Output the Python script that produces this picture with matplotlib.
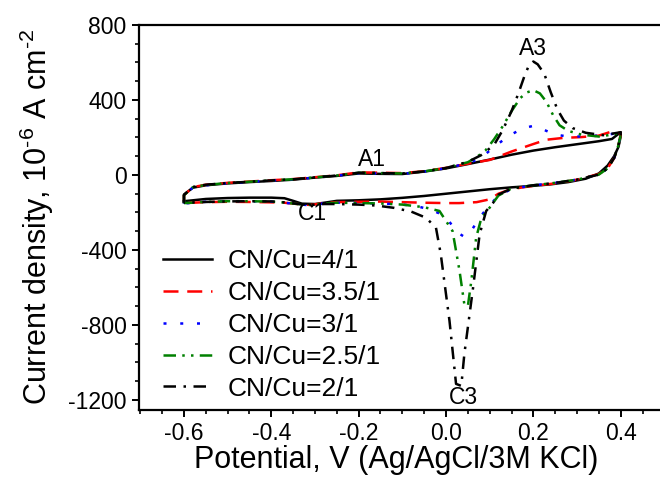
import matplotlib
matplotlib.use('Agg')
import matplotlib.pyplot as plt
from matplotlib.ticker import MultipleLocator

plt.rcParams['font.family'] = ['Liberation Sans', 'DejaVu Sans']
plt.rcParams['mathtext.fontset'] = 'custom'
plt.rcParams['mathtext.rm'] = 'Liberation Sans'
plt.rcParams['mathtext.it'] = 'Liberation Sans:italic'
plt.rcParams['mathtext.bf'] = 'Liberation Sans:bold'

# CV loops: anodic sweep -0.6 -> 0.4 V, then cathodic sweep back to -0.6 V
x_41 = [-0.60, -0.60, -0.58, -0.55, -0.50, -0.45, -0.40, -0.35, -0.30, -0.25, -0.20, -0.15, -0.10, -0.05,
        0.00, 0.05, 0.10, 0.15, 0.20, 0.25, 0.30, 0.35, 0.38, 0.40,
        0.400, 0.395, 0.385, 0.37, 0.35, 0.32, 0.28, 0.24, 0.20, 0.15, 0.10, 0.05, 0.00, -0.05, -0.10,
        -0.15, -0.20, -0.25, -0.27, -0.30, -0.33, -0.35, -0.37, -0.40, -0.45, -0.50, -0.55, -0.60]
y_41 = [-145, -105, -68, -55, -45, -38, -32, -25, -14, -5, 8, 6, 5, 18,
        35, 58, 82, 108, 130, 148, 164, 180, 192, 228,
        205, 150, 100, 50, 8, -20, -38, -50, -58, -66, -76, -88, -100, -112, -122,
        -130, -135, -138, -145, -155, -153, -138, -124, -121, -121, -123, -128, -140]

x_351 = [-0.60, -0.60, -0.58, -0.55, -0.50, -0.45, -0.40, -0.35, -0.30, -0.25, -0.20, -0.15, -0.10, -0.05,
         0.00, 0.05, 0.10, 0.15, 0.20, 0.23, 0.27, 0.31, 0.35, 0.38, 0.40,
         0.400, 0.395, 0.385, 0.37, 0.35, 0.30, 0.25, 0.20, 0.15, 0.12, 0.10, 0.07, 0.03, 0.00, -0.05,
         -0.10, -0.15, -0.20, -0.25, -0.28, -0.31, -0.34, -0.37, -0.40, -0.45, -0.50, -0.55, -0.60]
y_351 = [-150, -108, -65, -52, -42, -35, -28, -22, -12, -2, 14, 12, 10, 20,
         38, 60, 80, 125, 165, 188, 198, 202, 210, 232, 222,
         215, 160, 90, 35, 5, -25, -45, -58, -75, -100, -130, -145, -150, -150, -148,
         -145, -142, -143, -145, -150, -160, -155, -148, -146, -144, -143, -145, -150]

x_31 = [-0.60, -0.60, -0.58, -0.55, -0.50, -0.45, -0.40, -0.35, -0.30, -0.25, -0.20, -0.15, -0.10, -0.05,
        0.00, 0.05, 0.08, 0.11, 0.145, 0.175, 0.20, 0.225, 0.25, 0.28, 0.32, 0.36, 0.40,
        0.400, 0.395, 0.385, 0.37, 0.35, 0.30, 0.25, 0.20, 0.15, 0.12, 0.092, 0.077, 0.06, 0.042, 0.025,
        0.008, -0.015, -0.038, -0.07, -0.10, -0.15, -0.20, -0.25, -0.28, -0.31, -0.34, -0.37, -0.40,
        -0.45, -0.50, -0.55, -0.60]
y_31 = [-152, -110, -68, -55, -44, -37, -30, -24, -14, -4, 10, 8, 6, 18,
        36, 62, 90, 150, 210, 248, 262, 240, 215, 205, 205, 212, 225,
        215, 160, 90, 35, 2, -25, -42, -55, -75, -110, -183, -228, -290, -330, -305,
        -250, -205, -183, -165, -158, -152, -150, -148, -152, -162, -156, -148, -142,
        -140, -140, -143, -152]

x_251 = [-0.60, -0.60, -0.58, -0.55, -0.50, -0.45, -0.40, -0.35, -0.30, -0.25, -0.20, -0.15, -0.10, -0.05,
         0.00, 0.05, 0.07, 0.09, 0.11, 0.13, 0.15, 0.17, 0.185, 0.20, 0.215, 0.23, 0.245, 0.26, 0.28,
         0.31, 0.35, 0.38, 0.40,
         0.400, 0.395, 0.385, 0.37, 0.35, 0.30, 0.25, 0.20, 0.15, 0.12, 0.10, 0.081, 0.069, 0.058, 0.05,
         0.042, 0.031, 0.015, -0.015, -0.05, -0.10, -0.15, -0.20, -0.25, -0.28, -0.31, -0.34, -0.37,
         -0.40, -0.45, -0.50, -0.55, -0.60]
y_251 = [-150, -108, -66, -53, -43, -36, -29, -23, -13, -3, 12, 10, 8, 19,
         37, 68, 95, 130, 190, 260, 340, 410, 440, 452, 435, 390, 320, 265, 235,
         215, 205, 215, 225,
         215, 160, 90, 35, 2, -25, -42, -55, -72, -110, -174, -229, -335, -565, -700,
         -690, -512, -299, -192, -172, -158, -152, -150, -148, -152, -160, -155, -147,
         -142, -140, -140, -144, -150]

x_21 = [-0.60, -0.60, -0.58, -0.55, -0.50, -0.45, -0.40, -0.35, -0.30, -0.25, -0.20, -0.15, -0.10, -0.05,
        0.00, 0.05, 0.08, 0.11, 0.13, 0.15, 0.165, 0.18, 0.19, 0.20, 0.21, 0.225, 0.24, 0.255, 0.27,
        0.29, 0.32, 0.36, 0.40,
        0.400, 0.395, 0.385, 0.37, 0.35, 0.30, 0.25, 0.20, 0.15, 0.12, 0.108, 0.092, 0.077, 0.062, 0.042,
        0.035, 0.023, 0.008, -0.012, -0.023, -0.046, -0.08, -0.12, -0.16, -0.20, -0.25, -0.28, -0.31,
        -0.34, -0.37, -0.40, -0.45, -0.50, -0.55, -0.60]
y_21 = [-148, -106, -64, -52, -43, -36, -29, -23, -13, -3, 12, 10, 8, 19,
        37, 70, 105, 160, 240, 340, 430, 530, 585, 605, 590, 540, 440, 350, 290,
        250, 225, 212, 228,
        215, 160, 90, 35, 2, -25, -42, -55, -72, -105, -148, -192, -316, -601, -955,
        -1125, -1114, -778, -422, -281, -228, -195, -175, -163, -158, -155, -155, -160,
        -154, -146, -141, -140, -141, -144, -148]

series = [
    (x_41, y_41, 'CN/Cu=4/1', 'black', '-'),
    (x_351, y_351, 'CN/Cu=3.5/1', 'red', (0, (6, 3.5))),
    (x_31, y_31, 'CN/Cu=3/1', 'blue', (0, (1.2, 5.5))),
    (x_251, y_251, 'CN/Cu=2.5/1', 'green', (0, (5, 2.5, 1, 2.5, 1, 2.5))),
    (x_21, y_21, 'CN/Cu=2/1', 'black', (0, (5, 3, 1, 3))),
]

fig = plt.figure(figsize=(6.6, 4.8), dpi=100)
ax = fig.add_axes([0.2106, 0.146, 0.796, 0.802])

for xs, ys, label, color, ls in series:
    ax.plot(xs, ys, color=color, linestyle=ls, linewidth=1.8, label=label)

ax.set_xlim(-0.703, 0.5)
ax.set_ylim(-1253, 800)
ax.xaxis.set_minor_locator(MultipleLocator(0.05))
ax.yaxis.set_minor_locator(MultipleLocator(100))
ax.set_xticks([-0.6, -0.4, -0.2, 0.0, 0.2, 0.4])
ax.set_xticklabels(['-0.6', '-0.4', '-0.2', '0.0', '0.2', '0.4'])
ax.set_yticks([-1200, -800, -400, 0, 400, 800])
ax.set_yticklabels(['-1200', '-800', '-400', '0', '400', '800'])

for sp in ax.spines.values():
    sp.set_linewidth(1.6)
ax.tick_params(which='major', direction='out', length=5, width=1.4, labelsize=16.5)
ax.tick_params(which='minor', direction='out', length=3, width=1.2)
ax.tick_params(axis='x', which='major', pad=4)
ax.tick_params(axis='y', which='major', pad=4)

ax.set_xlabel('Potential, V (Ag/AgCl/3M KCl)', fontsize=22, va='baseline')
ax.xaxis.set_label_coords(0.489, -0.151)
ax.set_ylabel(r'Current density, 10$^{\text{-}6}$ A cm$^{\text{-}2}$', fontsize=22, va='center')
ax.yaxis.set_label_coords(-0.194, 0.5)

ax.text(-0.17, 85, 'A1', fontsize=16.5, ha='center', va='center')
ax.text(-0.305, -208, 'C1', fontsize=16.5, ha='center', va='center')
ax.text(0.199, 672, 'A3', fontsize=16.5, ha='center', va='center')
ax.text(0.039, -1189, 'C3', fontsize=16.5, ha='center', va='center')

ax.legend(loc='lower left', bbox_to_anchor=(0.028, 0.0), frameon=False, fontsize=19,
          handlelength=1.85, handletextpad=0.6, labelspacing=0.3, borderaxespad=0.05,
          borderpad=0.3)

fig.savefig('out.png', dpi=100)
